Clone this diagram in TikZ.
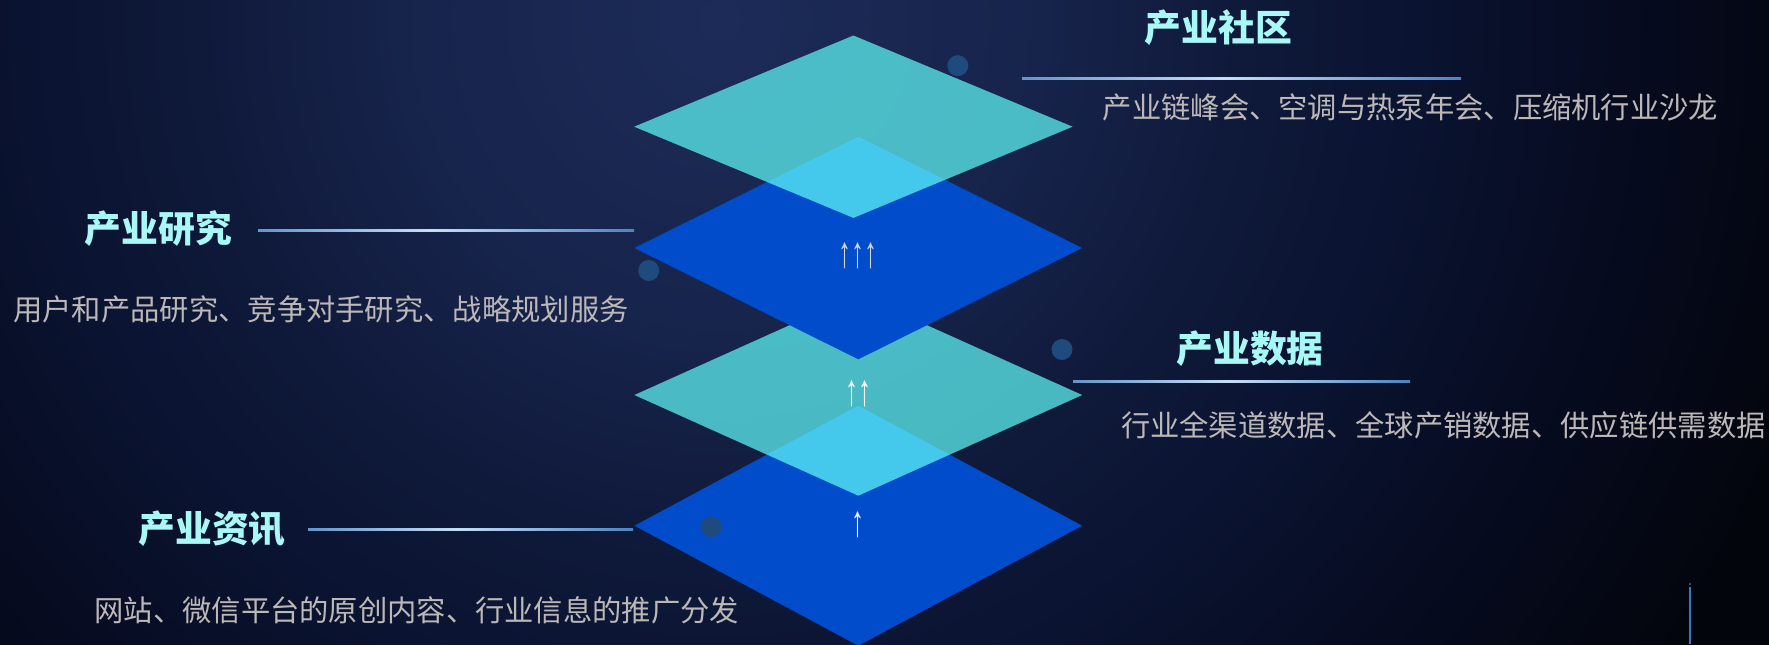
\documentclass[tikz,border=0pt]{standalone}
\usepackage{fontspec}
\usepackage{graphicx}
\newfontfamily\cjk{Noto Sans CJK SC}
\newfontfamily\arrfont{Liberation Sans}
\usetikzlibrary{calc}
\definecolor{bg0}{HTML}{1C2B58}
\definecolor{bg1}{HTML}{17244C}
\definecolor{bg2}{HTML}{0E1838}
\definecolor{bg3}{HTML}{0A1330}
\definecolor{bg4}{HTML}{060B20}
\definecolor{bg5}{HTML}{03050C}
\definecolor{blueL}{HTML}{004CCB}
\definecolor{cyanL}{HTML}{61FDFA}
\definecolor{dotC}{HTML}{1F4A7D}
\definecolor{titleC}{HTML}{A8F8F6}
\definecolor{descC}{HTML}{BDB8B8}
\definecolor{arrC}{HTML}{D0D8E4}
\definecolor{lnDark}{HTML}{101418}
\definecolor{lnBlue}{HTML}{2E6CB4}
\definecolor{lnLight}{HTML}{C4DEF6}
\definecolor{lnEnd}{HTML}{24303C}
\definecolor{vline}{HTML}{3A78C0}
\pgfdeclareradialshading{bgshade}{\pgfpoint{0bp}{0bp}}{color(0bp)=(bg0);color(6bp)=(bg1);color(11bp)=(bg2);color(14bp)=(bg3);color(18bp)=(bg4);color(23bp)=(bg5);color(50bp)=(bg5)}
\pgfdeclarehorizontalshading{lineshade}{100bp}{color(0bp)=(lnDark);color(12bp)=(lnBlue);color(48bp)=(lnLight);color(82bp)=(lnBlue);color(100bp)=(lnEnd)}
\tikzset{
  titlebox/.style={inner sep=0pt, text=titleC, font=\cjk\bfseries\fontsize{18.4pt}{20pt}\selectfont},
  descbox/.style={inner sep=0pt, text=descC, font=\cjk\fontsize{14.65pt}{17pt}\selectfont},
  arrbox/.style={inner sep=0pt, font=\arrfont\bfseries\fontsize{22pt}{24pt}\selectfont},
  dotnode/.style={fill=dotC},
  linkline/.style={shading=lineshade},
  cyanface/.style={fill=cyanL, fill opacity=0.7},
  blueface/.style={fill=blueL}
}
\begin{document}
\begin{tikzpicture}[x=0.5pt,y=-0.5pt]
\useasboundingbox (0,0) rectangle (1769,644);
\begin{scope}
\clip (0,0) rectangle (1769,644);
\fill[bg5] (0,0) rectangle (1769,644);
\shade[shading=bgshade] (720,20) circle[radius=1250];
% diamonds
\fill[blueface] (858.3,405.7) -- (1082.2,525.7) -- (858.3,645.7) -- (634.4,525.7) -- cycle;
\fill[cyanface] (858.3,294.3) -- (1082.2,395) -- (858.3,495.7) -- (634.4,395) -- cycle;
\fill[blueface] (858.3,136.7) -- (1082.2,248) -- (858.3,359.3) -- (634.4,248) -- cycle;
\fill[cyanface] (853.4,35.5) -- (1072.6,126.7) -- (853.4,217.9) -- (634.2,126.7) -- cycle;
% dots
\fill[dotnode] (957.8,65.7) circle[radius=10.5];
\fill[dotnode] (648.7,270.5) circle[radius=10.5];
\fill[dotnode] (1062,349.5) circle[radius=10.5];
\fill[dotnode] (711,526.8) circle[radius=10.5];
% vertical line bottom right
\fill[vline] (1689,587) rectangle (1691,644);
\fill[vline!60!bg5] (1689,583) rectangle (1691,584.5);
\end{scope}
% titles
\node[titlebox] (t1) at (1218.5,28) {产业社区};
\node[titlebox] (t2) at (158.5,228.5) {产业研究};
\node[titlebox] (t3) at (1250,348.3) {产业数据};
\node[titlebox] (t4) at (212,529) {产业资讯};
% descriptions
\node[descbox] (d1) at (1410.5,107.5) {产业链峰会、空调与热泵年会、压缩机行业沙龙};
\node[descbox] (d2) at (321,309) {用户和产品研究、竞争对手研究、战略规划服务};
\node[descbox] (d3) at (1443.3,424.8) {行业全渠道数据、全球产销数据、供应链供需数据};
\node[descbox] (d4) at (416.8,610.8) {网站、微信平台的原创内容、行业信息的推广分发};
% arrows
\node[arrbox, text=arrC] (a1) at (858.3,256) {\scalebox{0.59}[1]{↑↑↑}};
\node[arrbox, text=white] (a2) at (858.3,394) {\scalebox{0.59}[1]{↑↑}};
\node[arrbox, text=white] (a3) at (858.3,524.5) {\scalebox{0.59}[1]{↑}};
% link lines
\coordinate (l1a) at (1022,78.3); \coordinate (l1b) at (1461,78.3);
\coordinate (l2a) at (258,230.7); \coordinate (l2b) at (634,230.7);
\coordinate (l3a) at (1073,381.7); \coordinate (l3b) at (1410,381.7);
\coordinate (l4a) at (308,529); \coordinate (l4b) at (633,529);
\shade[linkline] ($(l1a)+(0,-1)$) rectangle ($(l1b)+(0,1)$);
\shade[linkline] ($(l2a)+(0,-1)$) rectangle ($(l2b)+(0,1)$);
\shade[linkline] ($(l3a)+(0,-1)$) rectangle ($(l3b)+(0,1)$);
\shade[linkline] ($(l4a)+(0,-1)$) rectangle ($(l4b)+(0,1)$);
\end{tikzpicture}
\end{document}
